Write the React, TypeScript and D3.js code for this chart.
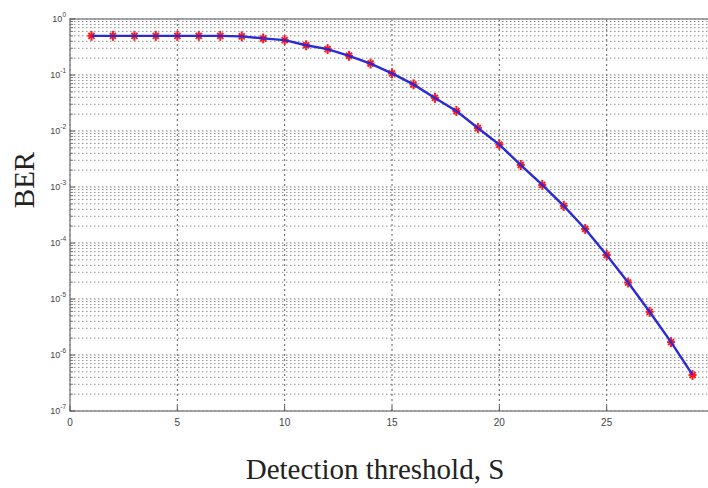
import React from "react";
import * as d3 from "d3";

// Bit error rate against detection threshold S
const thresholds = [1, 2, 3, 4, 5, 6, 7, 8, 9, 10, 11, 12, 13, 14, 15, 16, 17, 18, 19, 20, 21, 22, 23, 24, 25, 26, 27, 28, 29];
const berValues = [
  0.5, 0.5, 0.5, 0.5, 0.5, 0.5, 0.5, 0.49, 0.45, 0.42,
  0.34, 0.29, 0.22, 0.16, 0.107, 0.068, 0.039, 0.0228, 0.0113, 0.0057,
  0.00247, 0.00109, 4.6e-4, 1.78e-4, 6.1e-5, 1.97e-5, 5.9e-6, 1.7e-6, 4.4e-7,
];
const xTicks = [0, 5, 10, 15, 20, 25, 30];
const yExponents = [0, -1, -2, -3, -4, -5, -6, -7];

const W = 708;
const H = 488;
const left = 70;
const right = 714;
const top = 19;
const bottom = 411;

export default function App() {
  const x = d3.scaleLinear().domain([0, 30]).range([left, right]);
  const y = d3.scaleLog().domain([1e-7, 1]).range([bottom, top]);

  const minorY: number[] = [];
  for (let e = -7; e < 0; e++) {
    for (let m = 2; m <= 9; m++) minorY.push(m * Math.pow(10, e));
  }

  const line = d3
    .line<number>()
    .x((_, i) => x(thresholds[i]))
    .y((d) => y(d));

  const pts = thresholds.map((t, i) => [x(t), y(berValues[i])]);
  const r = 4;

  return (
    <svg
      width={W}
      height={H}
      style={{ position: "absolute", left: 0, top: 0, background: "#fff" }}
      fontFamily="Arial, 'Liberation Sans', sans-serif"
    >
      <rect x={left} y={top} width={right - left} height={bottom - top} fill="#fff" />

      {/* minor horizontal grid */}
      {minorY.map((v, i) => (
        <line
          key={"my" + i}
          x1={left}
          x2={right}
          y1={y(v)}
          y2={y(v)}
          stroke="#8c8c8c"
          strokeWidth={1}
          strokeDasharray="1.5,2.5"
        />
      ))}
      {/* major horizontal grid */}
      {yExponents.map((e) => (
        <line
          key={"Y" + e}
          x1={left}
          x2={right}
          y1={y(Math.pow(10, e))}
          y2={y(Math.pow(10, e))}
          stroke="#777"
          strokeWidth={1}
          strokeDasharray="1.5,2.5"
        />
      ))}
      {/* major vertical grid */}
      {xTicks.map((t) => (
        <line
          key={"X" + t}
          x1={x(t)}
          x2={x(t)}
          y1={top}
          y2={bottom}
          stroke="#606060"
          strokeWidth={1}
          strokeDasharray="2,3"
        />
      ))}

      {/* frame */}
      <rect
        x={left}
        y={top}
        width={right - left}
        height={bottom - top}
        fill="none"
        stroke="#8a8a8a"
        strokeWidth={1.5}
      />

      {/* y ticks */}
      {yExponents.map((e) => (
        <line key={"yt" + e} x1={left} x2={left + 5} y1={y(Math.pow(10, e))} y2={y(Math.pow(10, e))} stroke="#555" />
      ))}
      {minorY.map((v, i) => (
        <line key={"ymt" + i} x1={left} x2={left + 3} y1={y(v)} y2={y(v)} stroke="#777" />
      ))}
      {/* x ticks */}
      {xTicks.map((t) => (
        <line key={"xt" + t} x1={x(t)} x2={x(t)} y1={bottom} y2={bottom - 5} stroke="#555" />
      ))}

      {/* y tick labels */}
      {yExponents.map((e) => (
        <text
          key={"yl" + e}
          x={left - 4}
          y={y(Math.pow(10, e)) + 3}
          textAnchor="end"
          fontSize={9}
          fill="#444"
        >
          10
          <tspan dy={-5} fontSize={6.5}>
            {e}
          </tspan>
        </text>
      ))}
      {/* x tick labels */}
      {xTicks.map((t) => (
        <text key={"xl" + t} x={x(t)} y={bottom + 15} textAnchor="middle" fontSize={10} fill="#444">
          {t}
        </text>
      ))}

      {/* markers */}
      {pts.map(([px, py], i) => (
        <g key={"m" + i} stroke="#ff1a1a" strokeWidth={2}>
          <line x1={px - r} x2={px + r} y1={py} y2={py} />
          <line x1={px} x2={px} y1={py - r - 1} y2={py + r + 1} />
          <line x1={px - 3} x2={px + 3} y1={py - 3} y2={py + 3} />
          <line x1={px - 3} x2={px + 3} y1={py + 3} y2={py - 3} />
        </g>
      ))}

      {/* curve */}
      <path d={line(berValues) || ""} fill="none" stroke="#2a2ad8" strokeWidth={2.4} />

      {/* axis titles */}
      <text
        x={375}
        y={479}
        textAnchor="middle"
        fontFamily="'Liberation Serif', 'Times New Roman', serif"
        fontSize={29}
        fill="#222"
      >
        Detection threshold, S
      </text>
      <text
        transform={`translate(34,180) rotate(-90)`}
        textAnchor="middle"
        fontFamily="'Liberation Serif', 'Times New Roman', serif"
        fontSize={29}
        fill="#222"
      >
        BER
      </text>
    </svg>
  );
}
